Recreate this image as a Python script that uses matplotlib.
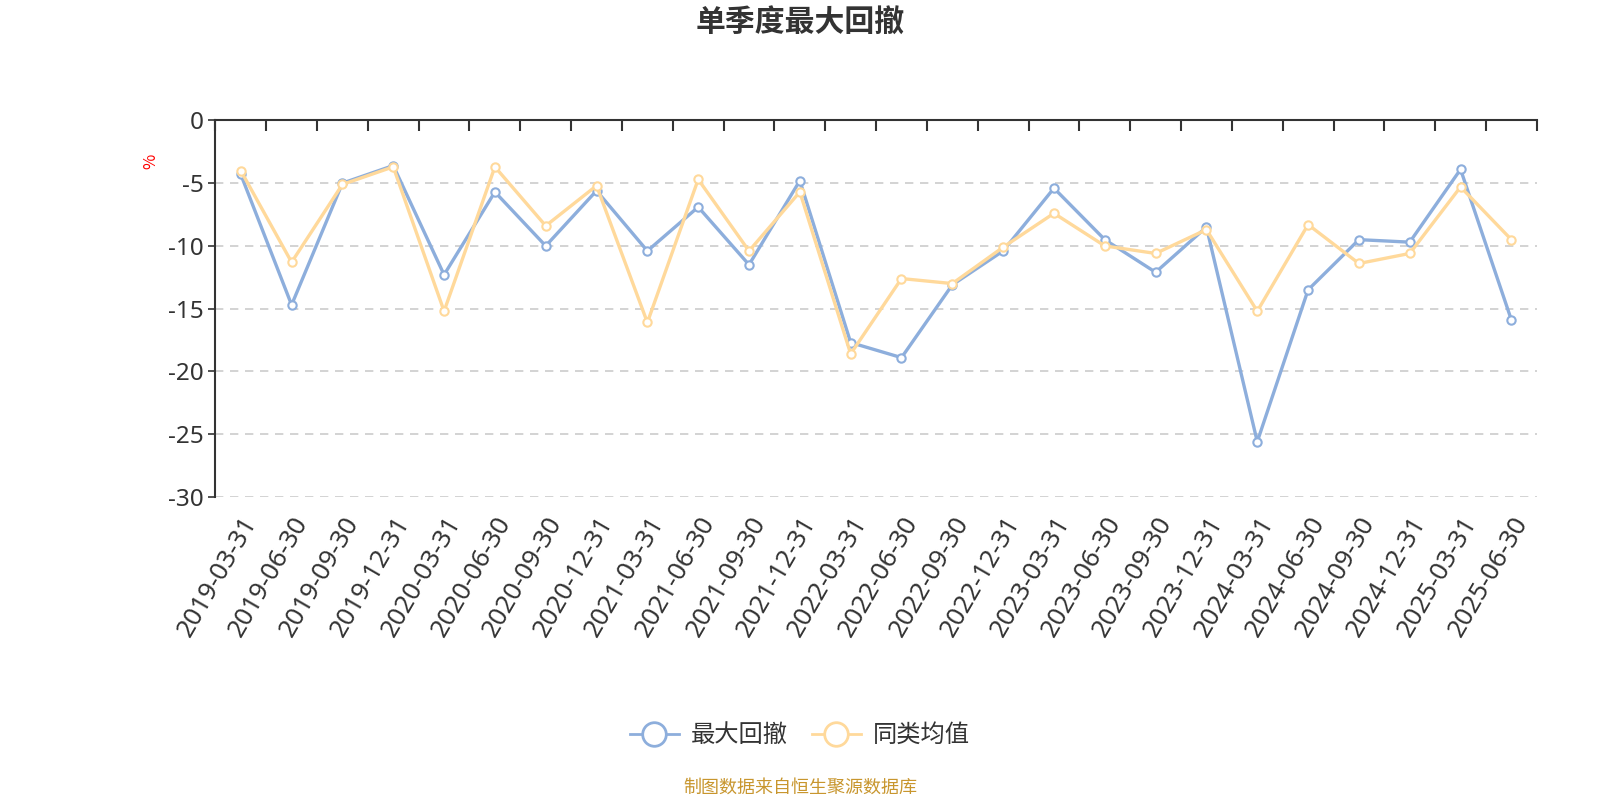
import matplotlib
matplotlib.use("Agg")
import matplotlib.pyplot as plt
from matplotlib.lines import Line2D
import numpy as np

plt.rcParams["font.family"] = ["Noto Sans CJK SC", "DejaVu Sans"]
NUM_FONT = ["Noto Sans", "Noto Sans CJK SC"]

# ─── 数据 ─────────────────────────────────────────────
quarters = [
    "2019-03-31", "2019-06-30", "2019-09-30", "2019-12-31",
    "2020-03-31", "2020-06-30", "2020-09-30", "2020-12-31",
    "2021-03-31", "2021-06-30", "2021-09-30", "2021-12-31",
    "2022-03-31", "2022-06-30", "2022-09-30", "2022-12-31",
    "2023-03-31", "2023-06-30", "2023-09-30", "2023-12-31",
    "2024-03-31", "2024-06-30", "2024-09-30", "2024-12-31",
    "2025-03-31", "2025-06-30",
]
max_drawdown = [
    -4.3, -14.7, -5.0, -3.6, -12.3, -5.7, -10.0, -5.6, -10.4, -6.9, -11.5, -4.8,
    -17.7, -18.9, -13.1, -10.4, -5.4, -9.5, -12.1, -8.5, -25.6, -13.5, -9.5, -9.7,
    -3.9, -15.9,
]
peer_avg = [
    -4.0, -11.3, -5.1, -3.7, -15.2, -3.7, -8.4, -5.2, -16.1, -4.7, -10.4, -5.7,
    -18.6, -12.6, -13.0, -10.1, -7.4, -10.0, -10.6, -8.7, -15.2, -8.3, -11.4, -10.6,
    -5.3, -9.5,
]
y_ticks = [0, -5, -10, -15, -20, -25, -30]

BLUE = "#8DAEDC"
YELLOW = "#FFD99B"
TEXT = "#333333"

fig = plt.figure(figsize=(16, 8), dpi=100)
ax = fig.add_axes([0.1346, 0.3788, 0.8259, 0.4707])

x = np.arange(len(quarters))
ax.plot(x, max_drawdown, color=BLUE, lw=2.4, marker="o", ms=6,
        mfc="white", mec=BLUE, mew=1.5, zorder=3)
ax.plot(x, peer_avg, color=YELLOW, lw=2.4, marker="o", ms=6,
        mfc="white", mec=YELLOW, mew=1.5, zorder=4)

ax.set_xlim(-0.5, len(quarters) - 0.5)
ax.set_ylim(-30, 0)

# 网格线
for v in y_ticks[1:]:
    ax.axhline(v, color="#cccccc", lw=1.2, ls=(0, (5, 4)), zorder=1)

# 坐标轴
for side in ["bottom", "right"]:
    ax.spines[side].set_visible(False)
ax.spines["top"].set_color(TEXT)
ax.spines["top"].set_linewidth(1.5)
ax.spines["left"].set_color(TEXT)
ax.spines["left"].set_linewidth(1.5)

ax.set_yticks(y_ticks)
ax.set_yticklabels([str(v) for v in y_ticks], fontsize=17.5, color=TEXT, family=NUM_FONT)
ax.tick_params(axis="y", direction="out", length=5, width=1.2, color=TEXT, pad=3)

ax.set_xticks(x)
ax.set_xticklabels(quarters, rotation=60, ha="right", rotation_mode="anchor",
                   fontsize=18.5, color=TEXT, family=NUM_FONT)
ax.tick_params(axis="x", which="major", length=0, pad=11)
ax.set_xticks(np.arange(len(quarters) + 1) - 0.5, minor=True)
ax.tick_params(axis="x", which="minor", top=True, bottom=False,
               direction="in", length=8, width=1.5, color=TEXT)

fig.text(0.0944, 0.7985, "%", rotation=90, color="red", fontsize=12,
         ha="center", va="center")

fig.text(0.5, 0.972, "单季度最大回撤", ha="center", va="center",
         fontsize=21.5, fontweight="bold", color=TEXT)

handles = [
    Line2D([], [], color=BLUE, lw=2, marker="o", ms=17, mfc="white", mec=BLUE, mew=2),
    Line2D([], [], color=YELLOW, lw=2, marker="o", ms=17, mfc="white", mec=YELLOW, mew=2),
]
fig.legend(handles, ["最大回撤", "同类均值"], loc="center", bbox_to_anchor=(0.5, 0.081),
           ncol=2, frameon=False, fontsize=17.5, labelcolor=TEXT,
           handlelength=2.0, columnspacing=1.0, handletextpad=0.5)

fig.text(0.5, 0.015, "制图数据来自恒生聚源数据库", ha="center", va="center",
         fontsize=13, color="#C8962E")

fig.savefig("out.png", dpi=100)
